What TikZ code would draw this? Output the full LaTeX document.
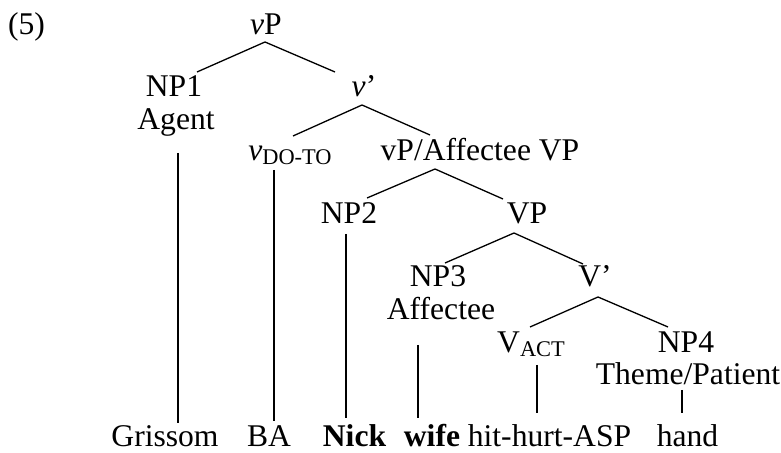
\documentclass[tikz,border=0pt]{standalone}
\usepackage{fontspec}
\setmainfont{Liberation Serif}
% lowered small-size subscript for category labels
\newcommand\lowsub[1]{\raisebox{-1.8pt}{\fontsize{11.2}{12}\selectfont #1}}
\begin{document}
\begin{tikzpicture}[x=0.5pt,y=-0.5pt,
  lbl/.style={anchor=base,inner sep=0pt,font=\fontsize{15.8}{19}\selectfont},
  branch/.style={line width=0.65pt}]
\useasboundingbox (0,0) rectangle (781,453);

% example number
\node[lbl] (ex) at (26.5,35) {(5)};

% tree labels
\node[lbl] (vP) at (266,35) {\textit{v}P};
\node[lbl] (NP1) at (174,97) {NP1};
\node[lbl] (agent) at (176,130) {Agent};
\node[lbl] (vbar) at (364,97) {\textit{v}\textquoteright};
\node[lbl] (vdo) at (290,161) {\textit{v}\lowsub{DO-TO}};
\node[lbl] (affVP) at (480,161) {vP/Affectee VP};
\node[lbl] (NP2) at (349,224) {NP2};
\node[lbl] (VP) at (527,224) {VP};
\node[lbl] (NP3) at (438,287) {NP3};
\node[lbl] (affectee) at (441,320) {Affectee};
\node[lbl] (Vbar) at (595,287) {V\textquoteright};
\node[lbl] (Vact) at (531,353) {V\lowsub{ACT}};
\node[lbl] (NP4) at (686,353) {NP4};
\node[lbl] (theme) at (688,385) {Theme/Patient};

% words of the sentence
\node[lbl] (grissom) at (165,447) {Grissom};
\node[lbl] (ba) at (269,447) {BA};
\node[lbl] (nick) at (354.5,447) {\textbf{Nick}};
\node[lbl] (wife) at (432,447) {\textbf{wife}};
\node[lbl] (hit) at (549.5,447) {hit-hurt-ASP};
\node[lbl] (hand) at (687.5,447) {hand};

% branch end points
\coordinate (vP-dn) at (265,42);
\coordinate (NP1-up) at (197,72);
\coordinate (vbar-up) at (335,72);
\coordinate (vbar-dn) at (362,105);
\coordinate (vdo-up) at (293,136);
\coordinate (affVP-up) at (430,135);
\coordinate (affVP-dn) at (435,169);
\coordinate (NP2-up) at (367,198);
\coordinate (VP-up) at (503,199);
\coordinate (VP-dn) at (514,233);
\coordinate (NP3-up) at (445,263);
\coordinate (Vbar-up) at (583,264);
\coordinate (Vbar-dn) at (598,297);
\coordinate (Vact-up) at (530,327);
\coordinate (NP4-up) at (668,327);

\coordinate (agent-dn) at (178,153);
\coordinate (grissom-up) at (178,423);
\coordinate (vdo-dn) at (274,170);
\coordinate (ba-up) at (274,421);
\coordinate (NP2-dn) at (346,234);
\coordinate (nick-up) at (346,418);
\coordinate (affectee-dn) at (418,345);
\coordinate (wife-up) at (418,418);
\coordinate (Vact-dn) at (537,365);
\coordinate (hit-up) at (537,413);
\coordinate (theme-dn) at (682,390);
\coordinate (hand-up) at (682,413);

% branches
\draw[branch] (NP1-up) -- (vP-dn) -- (vbar-up);
\draw[branch] (vdo-up) -- (vbar-dn) -- (affVP-up);
\draw[branch] (NP2-up) -- (affVP-dn) -- (VP-up);
\draw[branch] (NP3-up) -- (VP-dn) -- (Vbar-up);
\draw[branch] (Vact-up) -- (Vbar-dn) -- (NP4-up);

% lines down to the words
\draw[branch] (agent-dn) -- (grissom-up);
\draw[branch] (vdo-dn) -- (ba-up);
\draw[branch] (NP2-dn) -- (nick-up);
\draw[branch] (affectee-dn) -- (wife-up);
\draw[branch] (Vact-dn) -- (hit-up);
\draw[branch] (theme-dn) -- (hand-up);
\end{tikzpicture}
\end{document}
